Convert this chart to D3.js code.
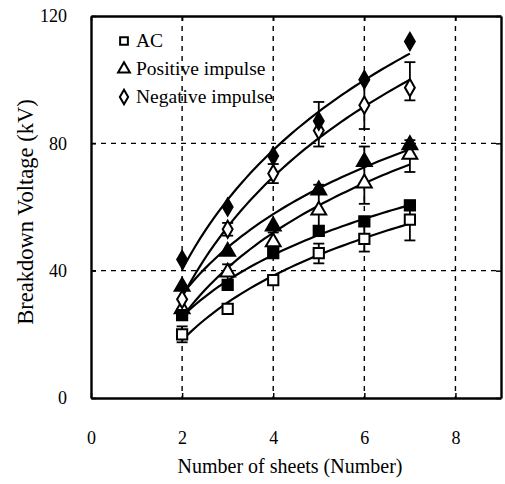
<!DOCTYPE html>
<html>
<head>
<meta charset="utf-8">
<script src="https://cdn.jsdelivr.net/npm/d3@7"></script>
<style>
  html, body { margin: 0; padding: 0; background: #fff; }
  svg { display: block; }
</style>
</head>
<body>
<svg id="chart" width="505" height="484"></svg>
<script>
// Number of stacked sheets
const sheets = [2, 3, 4, 5, 6, 7];

// AC breakdown voltage (kV): mean with error range, and maximum
const acMean = [20, 28, 37, 45.5, 50, 56];
const acLow  = [17.5, 26.5, 35.5, 42.3, 46, 49.5];
const acHigh = [22.5, 29.5, 38.5, 48.5, 54, 62];
const acMax  = [26, 35.5, 45.5, 52.5, 55.5, 60.5];

// Positive impulse breakdown voltage (kV)
const posMean = [28, 39.5, 49, 59, 67.5, 76.5];
const posLow  = [25, 37, 46, 51, 61, 71];
const posHigh = [31, 42, 52, 67, 79, 81];
const posMax  = [35, 46, 54, 65.3, 74.2, 79.5];

// Negative impulse breakdown voltage (kV)
const negMean = [31, 53, 70.5, 84, 92, 97.5];
const negLow  = [28, 51, 67.5, 79, 84.5, 93.5];
const negHigh = [34, 55, 73.5, 93, 100, 105.5];
const negMax  = [43.5, 60, 76, 87, 100, 112];

const xTicks = [0, 2, 4, 6, 8];
const yTicks = [0, 40, 80, 120];
const xGrid = [2, 4, 6, 8];
const yGrid = [40, 80];

const legendLabels = ["AC", "Positive impulse", "Negative impulse"];

const SERIF = "'Liberation Serif', 'Times New Roman', 'DejaVu Serif', serif";

const svg = d3.select("#chart");
const x = d3.scaleLinear().domain([0, 9]).range([91, 501]);
const y = d3.scaleLinear().domain([0, 120]).range([398, 16]);

// dashed grid
const grid = svg.append("g").attr("stroke", "#000").attr("stroke-width", 1.4)
  .attr("stroke-dasharray", "5,5").attr("fill", "none");
grid.selectAll("line.v").data(xGrid).join("line").attr("class", "v")
  .attr("x1", d => x(d)).attr("x2", d => x(d)).attr("y1", y(120)).attr("y2", y(0));
grid.selectAll("line.h").data(yGrid).join("line").attr("class", "h")
  .attr("x1", x(0)).attr("x2", x(9)).attr("y1", d => y(d)).attr("y2", d => y(d));

// axes with inward ticks on all four sides
const axB = svg.append("g").attr("transform", `translate(0,${y(0)})`)
  .call(d3.axisBottom(x).tickValues(xTicks).tickSize(-5).tickPadding(33).tickSizeOuter(0));
const axT = svg.append("g").attr("transform", `translate(0,${y(120)})`)
  .call(d3.axisTop(x).tickValues(xTicks).tickSize(-5).tickFormat("").tickSizeOuter(0));
const axL = svg.append("g").attr("transform", `translate(${x(0)},0)`)
  .call(d3.axisLeft(y).tickValues(yTicks).tickSize(-5).tickPadding(24).tickSizeOuter(0));
const axR = svg.append("g").attr("transform", `translate(${x(9)},0)`)
  .call(d3.axisRight(y).tickValues(yTicks).tickSize(-5).tickFormat("").tickSizeOuter(0));
[axB, axT, axL, axR].forEach(a => {
  a.attr("font-family", SERIF).attr("font-size", 18);
  a.select(".domain").attr("stroke", "#000").attr("stroke-width", 2.4);
  a.selectAll(".tick line").attr("stroke", "#000").attr("stroke-width", 1.5);
  a.selectAll(".tick text").attr("fill", "#000");
});
axB.selectAll(".tick text").attr("dy", "0.71em");

// axis titles
svg.append("text").attr("x", 290).attr("y", 473).attr("text-anchor", "middle")
  .attr("font-family", SERIF).attr("font-size", 20).text("Number of sheets (Number)");
svg.append("text").attr("transform", `translate(33,212) rotate(-90)`)
  .attr("text-anchor", "middle").attr("font-family", SERIF).attr("font-size", 22.5)
  .text("Breakdown Voltage (kV)");

// logarithmic least-squares trend line for a series
function logFit(xs, ys) {
  const lx = xs.map(Math.log);
  const mx = d3.mean(lx), my = d3.mean(ys);
  const a = d3.sum(lx, (v, i) => (v - mx) * (ys[i] - my)) / d3.sum(lx, v => (v - mx) ** 2);
  const b = my - a * mx;
  return t => a * Math.log(t) + b;
}

const line = d3.line().x(d => x(d[0])).y(d => y(d[1]));
const allSeries = [acMean, acMax, posMean, posMax, negMean, negMax];
const curves = svg.append("g").attr("fill", "none").attr("stroke", "#000").attr("stroke-width", 2.2);
allSeries.forEach(vals => {
  const f = logFit(sheets, vals);
  const pts = d3.range(0, 51).map(i => {
    const t = sheets[0] + (sheets[sheets.length - 1] - sheets[0]) * i / 50;
    return [t, f(t)];
  });
  curves.append("path").attr("d", line(pts));
});

// error bars
const errGroup = svg.append("g").attr("stroke", "#000").attr("stroke-width", 1.8);
function errorBars(lo, hi) {
  sheets.forEach((s, i) => {
    errGroup.append("line").attr("x1", x(s)).attr("x2", x(s)).attr("y1", y(lo[i])).attr("y2", y(hi[i]));
    [lo[i], hi[i]].forEach(v => errGroup.append("line")
      .attr("x1", x(s) - 5.5).attr("x2", x(s) + 5.5).attr("y1", y(v)).attr("y2", y(v)));
  });
}
errorBars(acLow, acHigh);
errorBars(posLow, posHigh);
errorBars(negLow, negHigh);

// marker shapes
const shapes = {
  square: d3.symbol().type(d3.symbolSquare).size(105),
  triangle: d3.symbol().type(d3.symbolTriangle).size(95),
  diamond: d3.symbol().type(d3.symbolDiamond).size(85)
};
const markers = svg.append("g");
function drawMarkers(vals, shape, filled) {
  markers.selectAll(null).data(sheets).join("path")
    .attr("transform", (s, i) => `translate(${x(s)},${y(vals[i])})`)
    .attr("d", shapes[shape])
    .attr("fill", filled ? "#000" : "#fff")
    .attr("stroke", "#000").attr("stroke-width", 2);
}
drawMarkers(acMean, "square", false);
drawMarkers(posMean, "triangle", false);
drawMarkers(negMean, "diamond", false);
drawMarkers(acMax, "square", true);
drawMarkers(posMax, "triangle", true);
drawMarkers(negMax, "diamond", true);

// legend
const legendSymbols = [d3.symbolSquare, d3.symbolTriangle, d3.symbolDiamond];
const leg = svg.append("g");
legendLabels.forEach((lab, i) => {
  const yy = 41 + i * 28;
  leg.append("path").attr("transform", `translate(124,${yy})`)
    .attr("d", d3.symbol().type(legendSymbols[i]).size(60)())
    .attr("fill", "#fff").attr("stroke", "#000").attr("stroke-width", 2);
  leg.append("text").attr("x", 136).attr("y", yy + 6).attr("font-family", SERIF)
    .attr("font-size", 19.5).text(lab);
});
</script>
</body>
</html>
